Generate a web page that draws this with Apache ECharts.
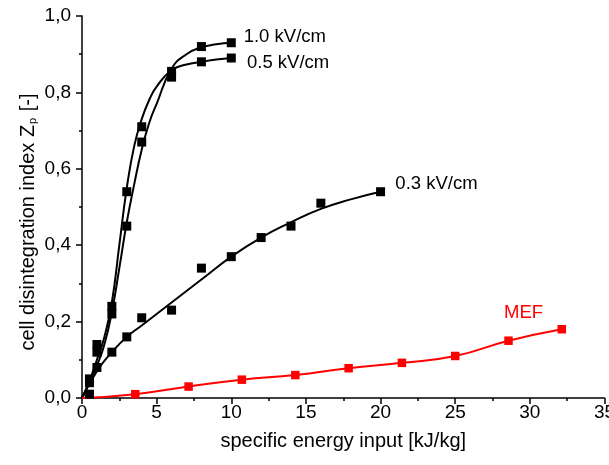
<!DOCTYPE html>
<html>
<head>
<meta charset="utf-8">
<script src="https://cdn.jsdelivr.net/npm/echarts@6/dist/echarts.min.js"></script>
<style>html,body{margin:0;padding:0;background:#fff}#c{width:609px;height:465px}</style>
</head>
<body>
<div id="c"></div>
<script>
// ---- data ----
var xTicks = [0, 5, 10, 15, 20, 25, 30, 35];
var yTicks = [0, 0.2, 0.4, 0.6, 0.8, 1.0];

var x10 = [0.5, 1, 2, 3, 4, 6, 8, 10];
var y10 = [0.04, 0.12, 0.22, 0.45, 0.67, 0.855, 0.92, 0.93];
var x05 = [0.5, 1, 2, 3, 4, 6, 8, 10];
var y05 = [0.05, 0.14, 0.24, 0.54, 0.71, 0.84, 0.88, 0.89];
var x03 = [0.5, 1, 2, 3, 4, 6, 8, 10, 12, 14, 16, 20];
var y03 = [0.01, 0.08, 0.12, 0.16, 0.21, 0.23, 0.34, 0.37, 0.42, 0.45, 0.51, 0.54];
var xMef = [3.57, 7.14, 10.71, 14.29, 17.86, 21.43, 25.0, 28.57, 32.14];
var yMef = [0.01, 0.03, 0.048, 0.06, 0.078, 0.092, 0.11, 0.15, 0.18];

// fitted curves
var fit10X = [0, 0.5, 1, 1.5, 2, 2.5, 3, 3.5, 4, 4.5, 5, 6, 7, 8, 9, 10];
var fit10Y = [0, 0.04, 0.085, 0.14, 0.225, 0.34, 0.46, 0.56, 0.65, 0.72, 0.77, 0.862, 0.9, 0.918, 0.926, 0.93];
var fit05X = [0, 0.5, 1, 1.5, 2, 2.5, 3, 3.5, 4, 4.5, 5, 6, 7, 8, 9, 10];
var fit05Y = [0, 0.045, 0.1, 0.16, 0.25, 0.4, 0.55, 0.66, 0.73, 0.78, 0.815, 0.858, 0.873, 0.88, 0.886, 0.89];
var fit03X = [0, 1, 2, 3, 4, 6, 8, 10, 12, 14, 16, 18, 20];
var fit03Y = [0, 0.07, 0.12, 0.16, 0.19, 0.25, 0.31, 0.37, 0.42, 0.46, 0.495, 0.52, 0.54];
var mefCurveX = [0].concat(xMef);
var mefCurveY = [0].concat(yMef);

var labels = ['1.0 kV/cm', '0.5 kV/cm', '0.3 kV/cm', 'MEF'];

// ---- build ----
function pairs(xs, ys) { return xs.map(function (x, i) { return [x, ys[i]]; }); }
var FONT = 'Liberation Sans, Arial, sans-serif';

function pointsWithLabel(xs, ys, idx, text, color, offset, align) {
  return xs.map(function (x, i) {
    var d = { value: [x, ys[i]] };
    if (i === idx) {
      d.label = { show: true, position: 'inside', align: align, verticalAlign: 'middle',
        offset: offset, formatter: text, color: color, opacity: 1, fontSize: 18.5, fontFamily: FONT,
        textBorderWidth: 0 };
    }
    return d;
  });
}

var chart = echarts.init(document.getElementById('c'), null, { renderer: 'canvas' });

var lineBase = { type: 'line', symbol: 'none', smooth: 0.5, silent: true, z: 2 };
var scatBase = { type: 'scatter', symbol: 'rect', silent: true, z: 3 };

chart.setOption({
  animation: false,
  backgroundColor: '#fff',
  grid: { left: 82, right: 4.5, top: 16, bottom: 67, containLabel: false, outerBoundsMode: 'none' },
  xAxis: {
    type: 'value', min: xTicks[0], max: xTicks[xTicks.length - 1], interval: 5,
    name: 'specific energy input [kJ/kg]', nameLocation: 'middle', nameGap: 33,
    nameTextStyle: { fontSize: 20, fontFamily: FONT, color: '#000' },
    axisLine: { show: true, onZero: false, lineStyle: { color: '#000', width: 1.5 } },
    axisTick: { show: true, inside: false, length: 6, lineStyle: { color: '#000', width: 1.5 } },
    minorTick: { show: true, splitNumber: 2, length: 3, lineStyle: { color: '#000', width: 1.5 } },
    axisLabel: { fontSize: 19, fontFamily: FONT, color: '#000', margin: 5, hideOverlap: false,
      formatter: function (v) { return String(v); } },
    splitLine: { show: false }
  },
  yAxis: {
    type: 'value', min: yTicks[0], max: yTicks[yTicks.length - 1], interval: 0.2,
    axisLine: { show: true, onZero: false, lineStyle: { color: '#000', width: 1.5 } },
    axisTick: { show: true, inside: false, length: 6, lineStyle: { color: '#000', width: 1.5 } },
    minorTick: { show: true, splitNumber: 2, length: 3, lineStyle: { color: '#000', width: 1.5 } },
    axisLabel: { fontSize: 19, fontFamily: FONT, color: '#000', margin: 11,
      formatter: function (v) { return v.toFixed(1).replace('.', ','); } },
    splitLine: { show: false }
  },
  graphic: [{
    type: 'text', x: 28, y: 222, rotation: Math.PI / 2, silent: true,
    style: {
      text: 'cell disintegration index Z{sub|p} [-]',
      fontSize: 20, fontFamily: FONT, fill: '#000', align: 'center', verticalAlign: 'middle',
      rich: { sub: { fontSize: 11, fontFamily: FONT, fill: '#000', verticalAlign: 'bottom', padding: [8, 1, 0, 1] } }
    }
  }],
  series: [
    Object.assign({}, lineBase, { data: pairs(fit10X, fit10Y), lineStyle: { color: '#000', width: 2 } }),
    Object.assign({}, lineBase, { data: pairs(fit05X, fit05Y), lineStyle: { color: '#000', width: 2 } }),
    Object.assign({}, lineBase, { data: pairs(fit03X, fit03Y), lineStyle: { color: '#000', width: 2 } }),
    Object.assign({}, lineBase, { data: pairs(mefCurveX, mefCurveY), lineStyle: { color: '#ff0000', width: 2 } }),
    Object.assign({}, scatBase, { symbolSize: 9, itemStyle: { color: '#000', opacity: 1 },
      data: pointsWithLabel(x10, y10, x10.length - 1, labels[0], '#000', [12.4, -5.4], 'left') }),
    Object.assign({}, scatBase, { symbolSize: 9, itemStyle: { color: '#000', opacity: 1 },
      data: pointsWithLabel(x05, y05, x05.length - 1, labels[1], '#000', [15.7, 5], 'left') }),
    Object.assign({}, scatBase, { symbolSize: 9, itemStyle: { color: '#000', opacity: 1 },
      data: pointsWithLabel(x03, y03, x03.length - 1, labels[2], '#000', [14.8, -7.4], 'left') }),
    Object.assign({}, scatBase, { symbolSize: 8.5, itemStyle: { color: '#ff0000', opacity: 1 },
      data: pointsWithLabel(xMef, yMef, 7, labels[3], '#ff0000', [15.1, -27.4], 'center') })
  ]
});
</script>
</body>
</html>
